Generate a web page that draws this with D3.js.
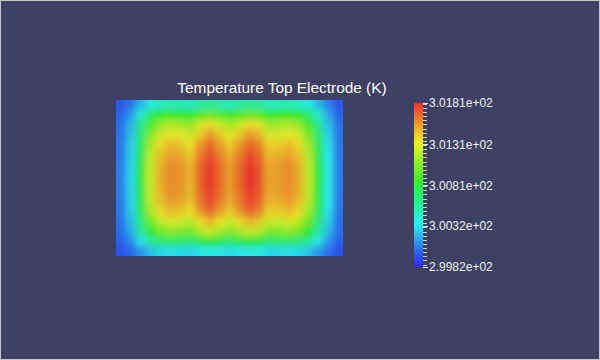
<!DOCTYPE html>
<html><head><meta charset="utf-8">
<script src="https://cdn.jsdelivr.net/npm/d3@7"></script>
<style>html,body{margin:0;padding:0;background:#3e4164;}svg{display:block;}</style>
</head><body>
<svg id="chart" width="600" height="360"></svg>
<script>
// ---------- data ----------
const title = "Temperature Top Electrode (K)";
const rangeMin = 299.82, rangeMax = 301.81;
const colorbarTickValues = [301.81, 301.31, 300.81, 300.32, 299.82];
const colorbarTickLabels = ["3.0181e+02", "3.0131e+02", "3.0081e+02", "3.0032e+02", "2.9982e+02"];
const gridColumns = [0,1,2,3,4,5,6,7,8,9,10,11,12,13,14,15,16,17,18,19,20,21,22];
const gridRows = [0,1,2,3,4,5,6,7,8,9,10,11,12,13,14,15];
// temperature (K) per cell, row by row from top to bottom
const row00 = [299.97,300.05,300.21,300.37,300.45,300.48,300.48,300.45,300.52,300.56,300.52,300.47,300.52,300.56,300.54,300.46,300.47,300.48,300.45,300.37,300.22,300.07,299.97];
const row01 = [300.00,300.14,300.42,300.69,300.83,300.88,300.87,300.82,300.94,301.02,300.94,300.86,300.94,301.02,300.97,300.84,300.86,300.88,300.83,300.68,300.43,300.17,300.00];
const row02 = [300.03,300.21,300.57,300.93,301.12,301.18,301.16,301.10,301.25,301.36,301.25,301.15,301.25,301.36,301.30,301.13,301.15,301.18,301.12,300.92,300.59,300.25,300.03];
const row03 = [300.04,300.24,300.65,301.05,301.26,301.32,301.31,301.24,301.41,301.53,301.41,301.29,301.41,301.53,301.46,301.27,301.29,301.32,301.26,301.04,300.67,300.29,300.04];
const row04 = [300.05,300.27,300.71,301.15,301.37,301.44,301.42,301.35,301.53,301.66,301.53,301.40,301.53,301.66,301.59,301.39,301.40,301.44,301.37,301.13,300.73,300.32,300.05];
const row05 = [300.05,300.28,300.74,301.20,301.43,301.51,301.49,301.41,301.60,301.74,301.60,301.47,301.60,301.74,301.66,301.45,301.47,301.51,301.43,301.18,300.76,300.34,300.05];
const row06 = [300.06,300.29,300.77,301.24,301.48,301.56,301.54,301.46,301.65,301.79,301.65,301.52,301.65,301.79,301.71,301.50,301.52,301.56,301.48,301.22,300.79,300.35,300.06];
const row07 = [300.06,300.30,300.78,301.25,301.49,301.57,301.55,301.47,301.67,301.81,301.67,301.53,301.67,301.81,301.73,301.51,301.53,301.57,301.49,301.23,300.80,300.36,300.06];
const row08 = [300.06,300.30,300.78,301.25,301.49,301.57,301.55,301.47,301.67,301.81,301.67,301.53,301.67,301.81,301.73,301.51,301.53,301.57,301.49,301.23,300.80,300.36,300.06];
const row09 = [300.06,300.29,300.77,301.24,301.48,301.56,301.54,301.46,301.65,301.79,301.65,301.52,301.65,301.79,301.71,301.50,301.52,301.56,301.48,301.22,300.79,300.35,300.06];
const row10 = [300.05,300.29,300.75,301.21,301.44,301.52,301.50,301.43,301.62,301.75,301.62,301.48,301.62,301.75,301.68,301.46,301.48,301.52,301.44,301.19,300.77,300.35,300.05];
const row11 = [300.05,300.27,300.71,301.15,301.37,301.44,301.42,301.35,301.53,301.66,301.53,301.40,301.53,301.66,301.59,301.39,301.40,301.44,301.37,301.13,300.73,300.32,300.05];
const row12 = [300.03,300.23,300.62,301.01,301.21,301.28,301.26,301.19,301.36,301.47,301.36,301.24,301.36,301.47,301.41,301.23,301.24,301.28,301.21,301.00,300.64,300.28,300.03];
const row13 = [300.02,300.19,300.52,300.85,301.02,301.08,301.06,301.01,301.15,301.24,301.15,301.05,301.15,301.24,301.19,301.03,301.05,301.08,301.02,300.84,300.53,300.23,300.02];
const row14 = [299.99,300.10,300.32,300.55,300.66,300.70,300.69,300.65,300.74,300.81,300.74,300.68,300.74,300.81,300.77,300.67,300.68,300.70,300.66,300.54,300.33,300.13,299.99];
const row15 = [299.95,300.01,300.13,300.24,300.30,300.32,300.31,300.29,300.34,300.37,300.34,300.31,300.34,300.37,300.36,300.30,300.31,300.32,300.30,300.24,300.13,300.03,299.95];
const gridValues = [row00,row01,row02,row03,row04,row05,row06,row07,row08,row09,row10,row11,row12,row13,row14,row15];

// ---------- layout ----------
const W = 600, H = 360;
const heat = {x0: 116, x1: 343, y0: 100, y1: 256};
const bar = {x0: 414, x1: 423, y0: 103, y1: 267};
const ext = 16; // edge extension under the blur

const svg = d3.select("#chart");
svg.append("rect").attr("x",0).attr("y",0).attr("width",W).attr("height",H).attr("fill","#3e4164");

const hue = d3.scaleLinear().domain([rangeMin, rangeMax]).range([244, 2]).clamp(true);
const color = v => d3.hsl(hue(v), 0.8, 0.54).formatHex();

const defs = svg.append("defs");
defs.append("clipPath").attr("id","heatClip").append("rect")
  .attr("x",heat.x0).attr("y",heat.y0).attr("width",heat.x1-heat.x0).attr("height",heat.y1-heat.y0);
const filt = defs.append("filter").attr("id","smooth").attr("filterUnits","userSpaceOnUse")
  .attr("x",heat.x0-40).attr("y",heat.y0-40).attr("width",heat.x1-heat.x0+80).attr("height",heat.y1-heat.y0+80);
filt.append("feGaussianBlur").attr("stdDeviation","3.2 3.2");

const xs = d3.scaleBand().domain(gridColumns).range([heat.x0, heat.x1]);
const ys = d3.scaleBand().domain(gridRows).range([heat.y0, heat.y1]);

const cells = [];
gridRows.forEach((r, ri) => gridColumns.forEach((c, ci) => cells.push({r, c, v: gridValues[ri][ci]})));

const firstC = gridColumns[0], lastC = gridColumns[gridColumns.length-1];
const firstR = gridRows[0], lastR = gridRows[gridRows.length-1];
const g = svg.append("g").attr("clip-path","url(#heatClip)").append("g").attr("filter","url(#smooth)");
g.selectAll("rect").data(cells).join("rect")
  .attr("x", d => xs(d.c) - (d.c === firstC ? ext : 0))
  .attr("y", d => ys(d.r) - (d.r === firstR ? ext : 0))
  .attr("width", d => xs.bandwidth() + 0.6 + (d.c === firstC ? ext : 0) + (d.c === lastC ? ext : 0))
  .attr("height", d => ys.bandwidth() + 0.6 + (d.r === firstR ? ext : 0) + (d.r === lastR ? ext : 0))
  .attr("fill", d => color(d.v));

// title
svg.append("text").attr("x", 282).attr("y", 93)
  .attr("text-anchor","middle").attr("fill","#ffffff")
  .style("font-family","'Liberation Sans', Arial, sans-serif").style("font-size","15.4px")
  .text(title);

// colorbar
const grad = defs.append("linearGradient").attr("id","cbar").attr("x1",0).attr("y1",1).attr("x2",0).attr("y2",0);
d3.range(0, 1.0001, 0.05).forEach(t => {
  const v = rangeMin + t * (rangeMax - rangeMin);
  grad.append("stop").attr("offset", t).attr("stop-color", d3.hsl(hue(v), 0.9, 0.56).formatHex());
});
svg.append("rect").attr("x",bar.x0).attr("y",bar.y0).attr("width",bar.x1-bar.x0).attr("height",bar.y1-bar.y0)
  .attr("fill","url(#cbar)");

const yBar = d3.scaleLinear().domain([rangeMin, rangeMax]).range([bar.y1, bar.y0]);
const minor = yBar.ticks(40);
svg.append("g").selectAll("line").data(minor).join("line")
  .attr("x1", bar.x1).attr("x2", bar.x1 + 4)
  .attr("y1", d => Math.round(yBar(d)) + 0.5).attr("y2", d => Math.round(yBar(d)) + 0.5)
  .attr("stroke","#d4d4dc").attr("stroke-width",1);
svg.append("g").selectAll("line").data(colorbarTickValues).join("line")
  .attr("x1", bar.x1).attr("x2", bar.x1 + 5)
  .attr("y1", d => Math.round(yBar(d)) + 0.5).attr("y2", d => Math.round(yBar(d)) + 0.5)
  .attr("stroke","#e8e8ee").attr("stroke-width",1);
svg.append("g").selectAll("text").data(colorbarTickValues).join("text")
  .attr("x", bar.x1 + 6).attr("y", d => yBar(d)).attr("dy","0.36em")
  .attr("fill","#f2f2f2")
  .style("font-family","'Liberation Sans', Arial, sans-serif").style("font-size","12px")
  .text((d, i) => colorbarTickLabels[i]);

// frame
svg.append("rect").attr("x",0.5).attr("y",0.5).attr("width",W-1).attr("height",H-1)
  .attr("fill","none").attr("stroke","#c8c8cc").attr("stroke-width",1);
</script>
</body></html>
